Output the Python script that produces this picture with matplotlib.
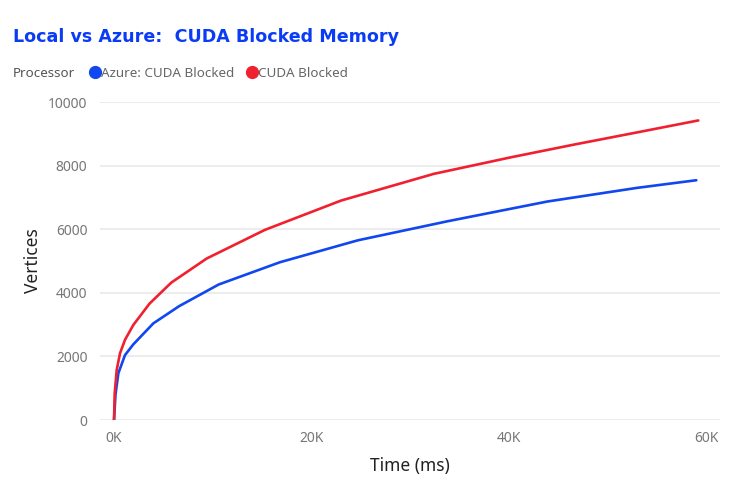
import matplotlib

matplotlib.use("Agg")
import matplotlib.pyplot as plt
from matplotlib.lines import Line2D
from matplotlib.ticker import FuncFormatter


# ============================================================
# Data
# ============================================================

# CUDA Blocked (local machine)
time_local = [0, 70, 270, 610, 1110, 1960, 3600, 5800, 9400, 15300,
              23000, 32400, 40200, 46600, 53100, 59200]
vertices_local = [0, 840, 1570, 2100, 2520, 2990, 3660, 4320, 5080, 5980,
                  6900, 7740, 8260, 8660, 9050, 9420]

# Azure: CUDA Blocked
time_azure = [0, 150, 440, 1110, 1960, 3990, 6600, 10600, 16800, 24700,
              33800, 43900, 53000, 59000]
vertices_azure = [0, 800, 1470, 2040, 2380, 3040, 3580, 4260, 4960, 5650,
                  6250, 6870, 7300, 7540]

series_names = ["Azure: CUDA Blocked", "CUDA Blocked"]
series_colors = ["#1047EE", "#F0202F"]

x_ticks = [0, 20000, 40000, 60000]
y_ticks = [0, 2000, 4000, 6000, 8000, 10000]


# ============================================================
# Figure
# ============================================================

FONT = "Noto Sans"
GREY = "#777777"

fig = plt.figure(figsize=(7.56, 4.95), dpi=100)
ax = fig.add_axes([100 / 756, 1 - 420 / 495, 620 / 756, 318 / 495])

ax.plot(time_azure, vertices_azure, color=series_colors[0], linewidth=1.9,
        solid_capstyle="round", solid_joinstyle="round")
ax.plot(time_local, vertices_local, color=series_colors[1], linewidth=1.9,
        solid_capstyle="round", solid_joinstyle="round")

ax.set_xlim(-1420, 61400)
ax.set_ylim(0, 10000)
ax.set_xticks(x_ticks)
ax.set_yticks(y_ticks)
ax.xaxis.set_major_formatter(FuncFormatter(lambda v, p: f"{int(v / 1000)}K"))
ax.yaxis.set_major_formatter(FuncFormatter(lambda v, p: f"{int(v)}"))

for side in ["top", "right", "left", "bottom"]:
    ax.spines[side].set_visible(False)

ax.grid(axis="y", color="#e9e9e9", linewidth=1.2)
ax.set_axisbelow(True)
ax.tick_params(length=0, labelsize=10, labelcolor=GREY)
for lbl in ax.get_xticklabels() + ax.get_yticklabels():
    lbl.set_fontfamily(FONT)
ax.tick_params(axis="x", pad=8)
ax.tick_params(axis="y", pad=9)

ax.set_xlabel("Time (ms)", fontsize=12.5, fontfamily=FONT, color="#222222",
              labelpad=8)
ax.set_ylabel("Vertices", fontsize=12.5, fontfamily=FONT, color="#222222")
ax.yaxis.set_label_coords(-0.094, 0.5)

# Title
fig.text(13 / 756, 1 - 37 / 495, "Local vs Azure:  CUDA Blocked Memory",
         fontsize=12.6, fontweight="bold", color="#0B3CF5",
         fontfamily="DejaVu Sans", va="center", ha="left")

# Legend row
fig.text(13 / 756, 1 - 73 / 495, "Processor", fontsize=9.7,
         fontweight="bold", color="#555555", fontfamily=FONT,
         va="center", ha="left")

handles = [
    Line2D([], [], linestyle="none", marker="o", markersize=8.5,
           color=c, label=n)
    for n, c in zip(series_names, series_colors)
]
leg = fig.legend(handles=handles, loc="center left",
                 bbox_to_anchor=(87 / 756, 1 - 73 / 495), ncol=2,
                 frameon=False, handletextpad=-0.15, columnspacing=0.7,
                 handlelength=1.2, borderaxespad=0, borderpad=0,
                 prop={"family": FONT, "size": 9.7})
for t in leg.get_texts():
    t.set_color("#666666")

fig.savefig("out.png", dpi=100)
